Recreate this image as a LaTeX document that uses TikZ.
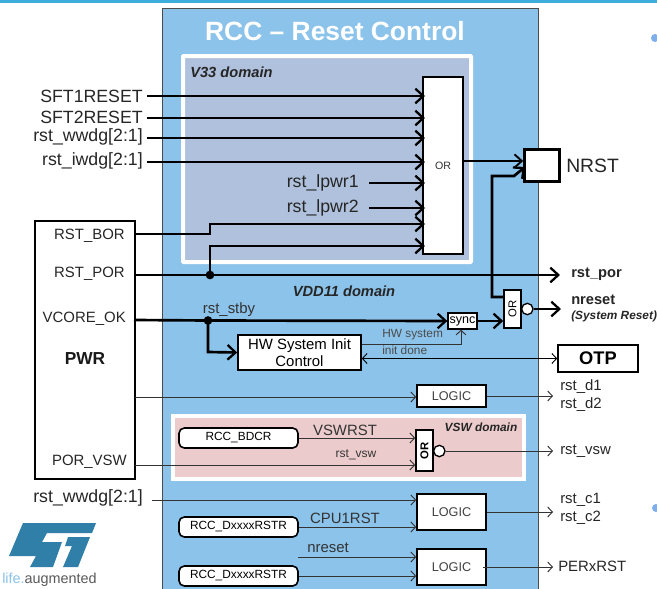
\documentclass[tikz,border=0pt]{standalone}
\usepackage{fontspec}
\setmainfont{Liberation Sans}
\usetikzlibrary{arrows.meta}
\definecolor{bandc}{HTML}{3EACDD}
\definecolor{rccblue}{HTML}{8CC3EA}
\definecolor{vdom}{HTML}{AFC1DC}
\definecolor{vswdom}{HTML}{EBCBCB}
\definecolor{stblue}{HTML}{2F7FA8}
\tikzset{
  x=0.75pt,y=-0.75pt,
  whitebox/.style={draw=black,fill=white,line width=1.2pt,inner sep=0pt,font=\fontsize{11.2pt}{12.5pt}\selectfont,align=center},
  logicbox/.style={whitebox,line width=1.2pt,font=\fontsize{9.5pt}{11pt}\selectfont,text=black!75},
  regbox/.style={whitebox,rounded corners=4pt,font=\fontsize{8.9pt}{10pt}\selectfont},
  bub/.style={circle,draw=black,fill=white,line width=1pt,minimum size=8.5pt,inner sep=0pt},
  dot/.style={circle,fill=black,minimum size=6.5pt,inner sep=0pt},
  lab/.style={inner sep=0pt,font=\fontsize{13.3pt}{15pt}\selectfont,text=black!85},
  sublab/.style={inner sep=0pt,anchor=west,font=\fontsize{11.2pt}{13pt}\selectfont,text=black!85},
  smlab/.style={inner sep=0pt,font=\fontsize{11.2pt}{13pt}\selectfont,text=black!80},
  dom/.style={inner sep=0pt,font=\fontsize{11pt}{13pt}\selectfont\bfseries\itshape,text=black!85},
  pwrlab/.style={inner sep=0pt,anchor=east,font=\fontsize{11.2pt}{13pt}\selectfont,text=black!85},
  boldlab/.style={inner sep=0pt,anchor=west,font=\fontsize{11pt}{13pt}\selectfont\bfseries,text=black!85},
  thickarr/.style={line width=2pt,-{Straight Barb[length=6pt,width=11pt,line width=1.7pt]}},
  thinarr/.style={line width=0.7pt,draw=black!80,-{Straight Barb[length=3.5pt,width=7.5pt,line width=0.7pt]}},
  midarr/.style={line width=1.4pt,-{Straight Barb[length=5.5pt,width=10pt,line width=1.4pt]}},
}
\begin{document}
\begin{tikzpicture}
\useasboundingbox (0,0) rectangle (657,589);
\fill[white] (0,0) rectangle (657,589);
\fill[bandc] (0,0) rectangle (657,3);
\draw[fill=rccblue,draw=black!70,line width=0.6pt] (162,8) rectangle (538,595);
\fill[rccblue!90!blue] (655,38) circle (4);
\fill[rccblue!90!blue] (656,508) circle (4);
\node[inner sep=0pt,text=white,font=\fontsize{19.8pt}{22pt}\selectfont\bfseries] (title) at (335,31) {RCC – Reset Control};
% domains
\draw[fill=vdom,draw=white,line width=3pt,rounded corners=0.5pt] (183,56) rectangle (471,262);
\node[dom,anchor=west] (v33) at (190,72) {V33 domain};
\node[dom,anchor=center] (vdd) at (344,291) {VDD11 domain};
\draw[fill=vswdom,draw=white,line width=3pt] (172.5,415.5) rectangle (524,479);
\node[dom,anchor=center,font=\fontsize{8.9pt}{10pt}\selectfont\bfseries\itshape] (vsw) at (481,427) {VSW domain};
% boxes
\node[whitebox,minimum width=30pt,minimum height=132.75pt,font=\fontsize{8pt}{10pt}\selectfont,text=black!80] (orbig) at (443,165.5) {OR};
\node[whitebox,line width=2.2pt,minimum width=26pt,minimum height=24pt] (nrst) at (542,165.5) {};
\node[inner sep=0pt,anchor=west,font=\fontsize{14.5pt}{16pt}\selectfont,text=black!85] (nrstl) at (566,166) {NRST};
\node[whitebox,minimum width=75pt,minimum height=193.5pt,anchor=north west] (pwr) at (34,220) {};
\node[inner sep=0pt,font=\fontsize{13pt}{15pt}\selectfont\bfseries,text=black!90] (pwrl) at (85,359) {PWR};
\node[pwrlab] (bor) at (125,236) {RST\_BOR};
\node[pwrlab] (por) at (125,274) {RST\_POR};
\node[pwrlab] (vcore) at (126,319) {VCORE\_OK};
\node[pwrlab] (porvsw) at (127,462) {POR\_VSW};
\coordinate (borp) at (134,234);
\coordinate (porp) at (134,275);
\coordinate (vcp) at (134,320);
\coordinate (pvp) at (135,465);
\coordinate (pwrp) at (135,397);
\node[lab,anchor=east] (s1) at (143,96) {SFT1RESET};
\node[lab,anchor=east] (s2) at (143,117) {SFT2RESET};
\node[lab,anchor=east] (ww) at (143,137) {rst\_wwdg[2:1]};
\node[lab,anchor=east] (iw) at (143,161) {rst\_iwdg[2:1]};
\node[lab,anchor=east] (lp1) at (359,183) {rst\_lpwr1};
\node[lab,anchor=east] (lp2) at (359,208) {rst\_lpwr2};
\node[lab,anchor=east] (ww2) at (143,498) {rst\_wwdg[2:1]};
% inputs to big OR
\coordinate (s1e) at (147,96); \coordinate (s2e) at (147,118);
\coordinate (wwe) at (147,138); \coordinate (iwe) at (147,162);
\coordinate (lp1e) at (369,183); \coordinate (lp2e) at (369,208);
\foreach \a/\y in {s1e/96,s2e/118,wwe/138,iwe/162,lp1e/183,lp2e/208}
  \draw[thickarr] (\a) -- (425,\y);
\node[dot] (pdot) at (210,275) {};
\draw[thickarr] (borp) -- (210,234) -- (210,224) -- (425,224);
\draw[thickarr] (pdot.center) -- (210,246) -- (425,246);
\draw[midarr] (orbig.east |- 0,161) -- (nrst.west |- 0,161);
% small OR etc
\node[whitebox,minimum width=12.75pt,minimum height=28.5pt,font=\fontsize{8.5pt}{10pt}\selectfont] (or2) at (512.5,309) {\rotatebox{90}{OR}};
\node[bub,anchor=west] (b2) at (521,309) {};
\node[boldlab] (rpor) at (571,274) {rst\_por};
\node[boldlab] (nres) at (571,300) {nreset};
\node[inner sep=0pt,anchor=west,font=\fontsize{8.9pt}{10pt}\selectfont\bfseries\itshape,text=black!85] (sysr) at (571,316) {(System Reset)};
\coordinate (rporp) at (560,275);
\coordinate (nresp) at (561,309);
\draw[thickarr] (porp) -- (pdot.center) -- (rporp);
\draw[thickarr] (or2.west |- 0,297) -- (492,297) -- (492,176) -- (514,176) -- (525,167);
\draw[thickarr] (b2.east) -- (nresp);
% sync and HW
\node[whitebox,minimum width=21.75pt,minimum height=12pt,font=\fontsize{9.4pt}{10pt}\selectfont,line width=1pt] (sync) at (462.5,321) {sync};
\node[whitebox,minimum width=92.25pt,minimum height=26.25pt,font=\fontsize{11.2pt}{12.5pt}\selectfont] (hw) at (299.5,352.5) {HW System Init\\Control};
\node[dot] (vdot) at (208,320.5) {};
\node[smlab,anchor=center] (stby) at (229,310) {rst\_stby};
\draw[thickarr] (vcp) -- (vdot.center) -- (sync.west);
\draw[thickarr] (vdot.center) -- (208,352) -- (hw.west);
\draw[thickarr] (sync.east) -- (or2.west |- sync.east);
\node[smlab,anchor=west,text=black!70,font=\fontsize{8.9pt}{9.5pt}\selectfont] (hwd1) at (382,335) {HW system};
\node[smlab,anchor=west,text=black!70,font=\fontsize{8.9pt}{9.5pt}\selectfont] (hwd2) at (382,350) {init done};
\draw[thinarr] (hw.east |- 0,344) -- (461,344) -- (sync.south -| 461,0);
\node[whitebox,minimum width=60pt,minimum height=20.25pt,font=\fontsize{13.7pt}{15pt}\selectfont\bfseries] (otp) at (598,358.5) {OTP};
\draw[line width=0.7pt,{Straight Barb[length=3.5pt,width=7.5pt,line width=0.7pt]}-{Straight Barb[length=3.5pt,width=7.5pt,line width=0.7pt]}] (hw.east |- otp.west) -- (otp.west);
% logic 1
\node[logicbox,minimum width=51.75pt,minimum height=16.5pt] (l1) at (451.5,396) {LOGIC};
\draw[thinarr] (pwrp) -- (l1.west |- pwrp);
\node[sublab] (d1) at (560,387) {rst\_d1};
\node[sublab] (d2) at (560,405) {rst\_d2};
\coordinate (d) at (553,396);
\draw[thinarr] (l1.east) -- (d);
% VSW
\node[regbox,minimum width=89.25pt,minimum height=15pt] (bdcr) at (238.5,438) {RCC\_BDCR};
\node[whitebox,minimum width=12.75pt,minimum height=30.75pt,font=\fontsize{8.5pt}{10pt}\selectfont\bfseries] (or3) at (424.5,450.5) {\rotatebox{90}{OR}};
\node[bub,anchor=west] (b3) at (433,451) {};
\node[smlab] (vrst) at (345,430) {VSWRST};
\node[smlab,font=\fontsize{9pt}{10pt}\selectfont] (rvsw) at (356,455) {rst\_vsw};
\draw[thinarr] (bdcr.east) -- (or3.west |- bdcr.east);
\draw[thinarr] (pvp) -- (or3.west |- pvp);
\coordinate (v) at (553,451);
\node[sublab] (vs) at (560,451) {rst\_vsw};
\draw[thinarr] (b3.east) -- (v);
% logic 2
\node[logicbox,minimum width=51.75pt,minimum height=27pt] (l2) at (451.5,512) {LOGIC};
\node[regbox,minimum width=89.25pt,minimum height=15pt] (dx1) at (238.5,527) {RCC\_DxxxxRSTR};
\coordinate (ww2e) at (152,500);
\draw[thinarr] (ww2e) -- (l2.west |- ww2e);
\draw[thinarr] (dx1.east) -- (l2.west |- dx1.east);
\node[smlab] (cpu) at (345,518) {CPU1RST};
\coordinate (c) at (553,512);
\draw[thinarr] (l2.east) -- (c);
\node[sublab] (c1) at (560,500) {rst\_c1};
\node[sublab] (c2) at (560,518) {rst\_c2};
% logic 3
\node[logicbox,minimum width=51.75pt,minimum height=27pt] (l3) at (451.5,567) {LOGIC};
\node[regbox,minimum width=89.25pt,minimum height=15pt] (dx2) at (238.5,576) {RCC\_DxxxxRSTR};
\coordinate (nrs) at (298,557);
\node[smlab] (nr2) at (328,548) {nreset};
\draw[thinarr] (nrs) -- (l3.west |- nrs);
\draw[thinarr] (dx2.east) -- (l3.west |- dx2.east);
\coordinate (pe) at (553,567);
\coordinate (pes) at (483,567);
\draw[thinarr] (pes) -- (pe);
\node[sublab] (per) at (558,566) {PERxRST};
% logo
\fill[stblue] (23,523) -- (96,523) -- (92,533) -- (47,533) -- (42,542) -- (62,542) -- (53,567) -- (30,567) -- (36,556) -- (9,556) -- cycle;
\fill[stblue] (68,537) -- (90,537) -- (78,567) -- (63,567) -- (72,546) -- (65,546) -- cycle;
\node[inner sep=0pt,anchor=west,font=\fontsize{10.8pt}{12pt}\selectfont,text=black!65] (logot) at (2,580) {\textcolor{rccblue}{life.}augmented};
\end{tikzpicture}
\end{document}
